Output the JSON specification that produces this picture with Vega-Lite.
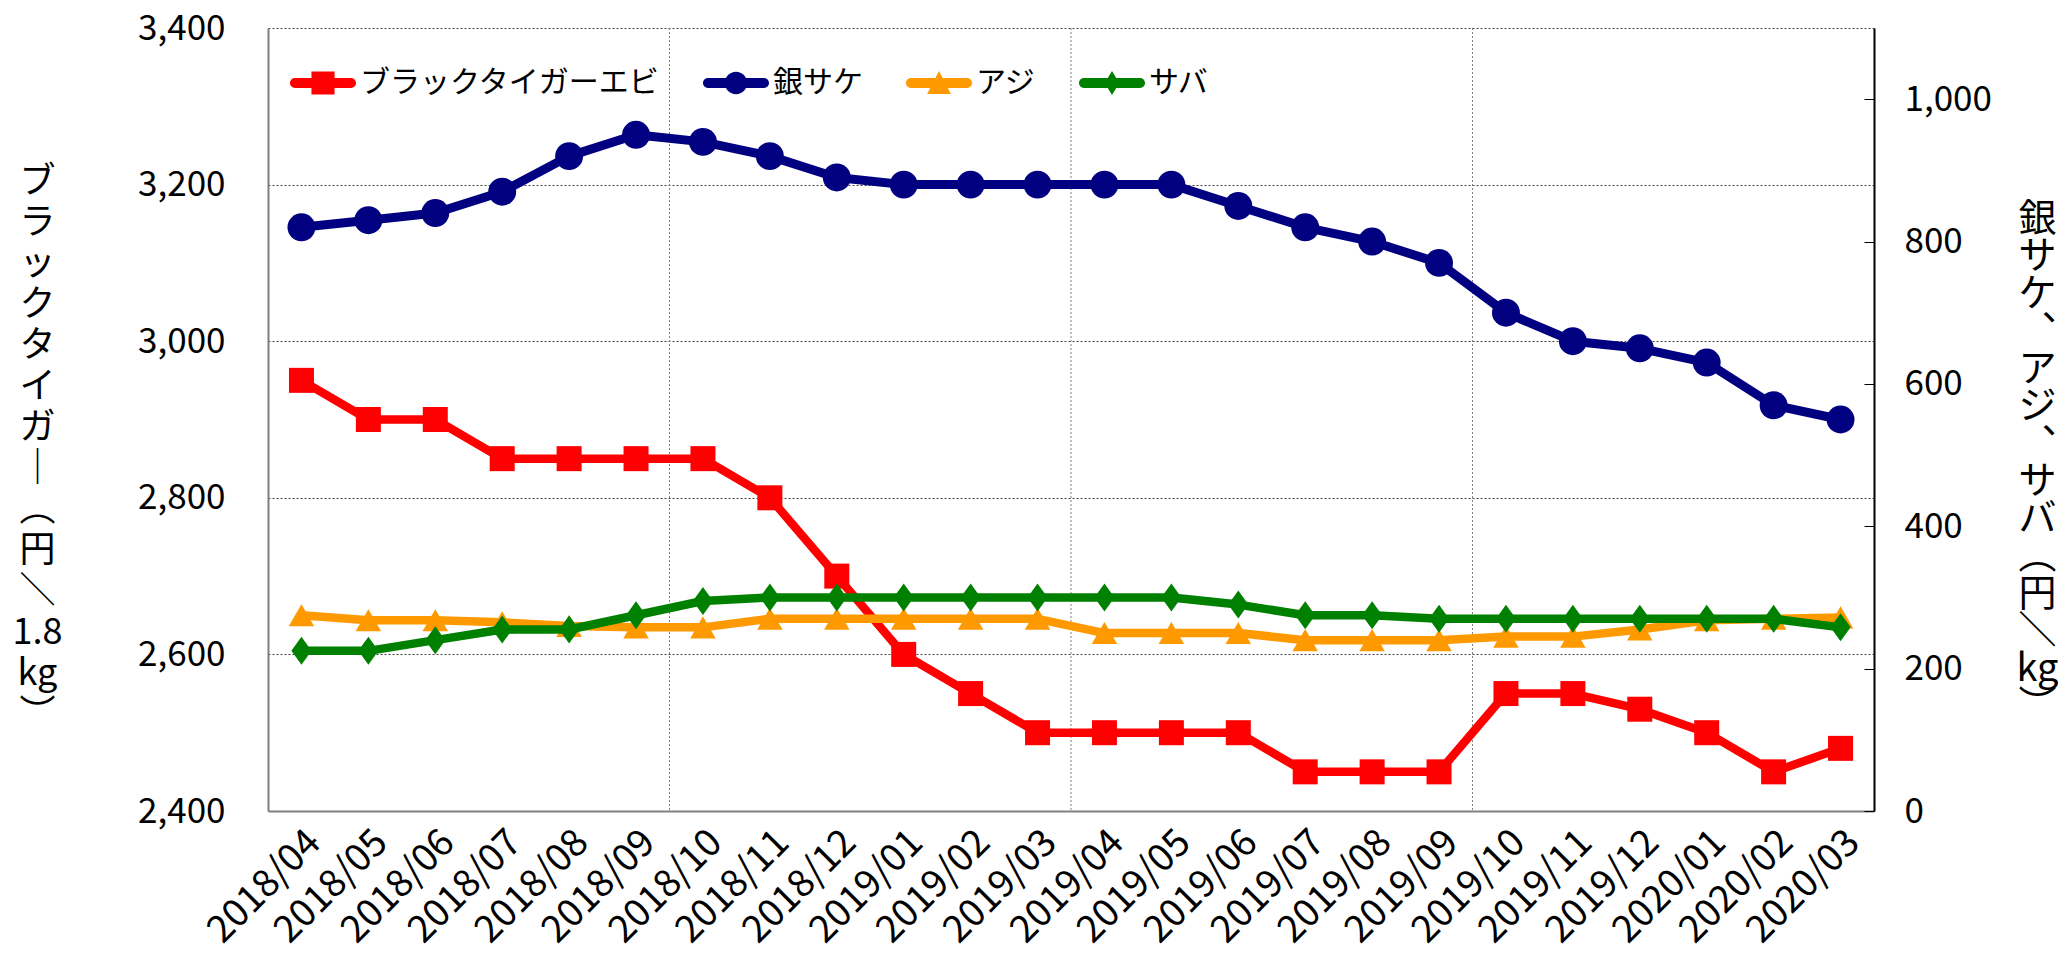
{
  "$schema": "https://vega.github.io/schema/vega-lite/v6.json",
  "width": 1606,
  "height": 783,
  "autosize": {"type": "none"},
  "padding": {"left": 268, "top": 28, "right": 188, "bottom": 144},
  "background": "#ffffff",
  "config": {
    "font": "Noto Sans CJK JP",
    "view": {"stroke": null},
    "axis": {"labelFont": "Noto Sans CJK JP", "titleFont": "Noto Sans CJK JP", "labelColor": "#000000", "titleColor": "#000000", "titleFontWeight": "normal"},
    "legend": {"labelFont": "Noto Sans CJK JP"}
  },
  "datasets": {
    "gridMonths": [{"month": "2018/10"}, {"month": "2019/04"}, {"month": "2019/10"}],
    "prices": [
      {"month": "2018/04", "series": "ブラックタイガーエビ", "price": 2950},
      {"month": "2018/05", "series": "ブラックタイガーエビ", "price": 2900},
      {"month": "2018/06", "series": "ブラックタイガーエビ", "price": 2900},
      {"month": "2018/07", "series": "ブラックタイガーエビ", "price": 2850},
      {"month": "2018/08", "series": "ブラックタイガーエビ", "price": 2850},
      {"month": "2018/09", "series": "ブラックタイガーエビ", "price": 2850},
      {"month": "2018/10", "series": "ブラックタイガーエビ", "price": 2850},
      {"month": "2018/11", "series": "ブラックタイガーエビ", "price": 2800},
      {"month": "2018/12", "series": "ブラックタイガーエビ", "price": 2700},
      {"month": "2019/01", "series": "ブラックタイガーエビ", "price": 2600},
      {"month": "2019/02", "series": "ブラックタイガーエビ", "price": 2550},
      {"month": "2019/03", "series": "ブラックタイガーエビ", "price": 2500},
      {"month": "2019/04", "series": "ブラックタイガーエビ", "price": 2500},
      {"month": "2019/05", "series": "ブラックタイガーエビ", "price": 2500},
      {"month": "2019/06", "series": "ブラックタイガーエビ", "price": 2500},
      {"month": "2019/07", "series": "ブラックタイガーエビ", "price": 2450},
      {"month": "2019/08", "series": "ブラックタイガーエビ", "price": 2450},
      {"month": "2019/09", "series": "ブラックタイガーエビ", "price": 2450},
      {"month": "2019/10", "series": "ブラックタイガーエビ", "price": 2550},
      {"month": "2019/11", "series": "ブラックタイガーエビ", "price": 2550},
      {"month": "2019/12", "series": "ブラックタイガーエビ", "price": 2530},
      {"month": "2020/01", "series": "ブラックタイガーエビ", "price": 2500},
      {"month": "2020/02", "series": "ブラックタイガーエビ", "price": 2450},
      {"month": "2020/03", "series": "ブラックタイガーエビ", "price": 2480},
      {"month": "2018/04", "series": "銀サケ", "price": 820},
      {"month": "2018/05", "series": "銀サケ", "price": 830},
      {"month": "2018/06", "series": "銀サケ", "price": 840},
      {"month": "2018/07", "series": "銀サケ", "price": 870},
      {"month": "2018/08", "series": "銀サケ", "price": 920},
      {"month": "2018/09", "series": "銀サケ", "price": 950},
      {"month": "2018/10", "series": "銀サケ", "price": 940},
      {"month": "2018/11", "series": "銀サケ", "price": 920},
      {"month": "2018/12", "series": "銀サケ", "price": 890},
      {"month": "2019/01", "series": "銀サケ", "price": 880},
      {"month": "2019/02", "series": "銀サケ", "price": 880},
      {"month": "2019/03", "series": "銀サケ", "price": 880},
      {"month": "2019/04", "series": "銀サケ", "price": 880},
      {"month": "2019/05", "series": "銀サケ", "price": 880},
      {"month": "2019/06", "series": "銀サケ", "price": 850},
      {"month": "2019/07", "series": "銀サケ", "price": 820},
      {"month": "2019/08", "series": "銀サケ", "price": 800},
      {"month": "2019/09", "series": "銀サケ", "price": 770},
      {"month": "2019/10", "series": "銀サケ", "price": 700},
      {"month": "2019/11", "series": "銀サケ", "price": 660},
      {"month": "2019/12", "series": "銀サケ", "price": 650},
      {"month": "2020/01", "series": "銀サケ", "price": 630},
      {"month": "2020/02", "series": "銀サケ", "price": 570},
      {"month": "2020/03", "series": "銀サケ", "price": 550},
      {"month": "2018/04", "series": "アジ", "price": 275},
      {"month": "2018/05", "series": "アジ", "price": 268},
      {"month": "2018/06", "series": "アジ", "price": 268},
      {"month": "2018/07", "series": "アジ", "price": 265},
      {"month": "2018/08", "series": "アジ", "price": 260},
      {"month": "2018/09", "series": "アジ", "price": 258},
      {"month": "2018/10", "series": "アジ", "price": 258},
      {"month": "2018/11", "series": "アジ", "price": 270},
      {"month": "2018/12", "series": "アジ", "price": 270},
      {"month": "2019/01", "series": "アジ", "price": 270},
      {"month": "2019/02", "series": "アジ", "price": 270},
      {"month": "2019/03", "series": "アジ", "price": 270},
      {"month": "2019/04", "series": "アジ", "price": 250},
      {"month": "2019/05", "series": "アジ", "price": 250},
      {"month": "2019/06", "series": "アジ", "price": 250},
      {"month": "2019/07", "series": "アジ", "price": 240},
      {"month": "2019/08", "series": "アジ", "price": 240},
      {"month": "2019/09", "series": "アジ", "price": 240},
      {"month": "2019/10", "series": "アジ", "price": 245},
      {"month": "2019/11", "series": "アジ", "price": 245},
      {"month": "2019/12", "series": "アジ", "price": 255},
      {"month": "2020/01", "series": "アジ", "price": 268},
      {"month": "2020/02", "series": "アジ", "price": 270},
      {"month": "2020/03", "series": "アジ", "price": 272},
      {"month": "2018/04", "series": "サバ", "price": 225},
      {"month": "2018/05", "series": "サバ", "price": 225},
      {"month": "2018/06", "series": "サバ", "price": 240},
      {"month": "2018/07", "series": "サバ", "price": 255},
      {"month": "2018/08", "series": "サバ", "price": 255},
      {"month": "2018/09", "series": "サバ", "price": 275},
      {"month": "2018/10", "series": "サバ", "price": 295},
      {"month": "2018/11", "series": "サバ", "price": 300},
      {"month": "2018/12", "series": "サバ", "price": 300},
      {"month": "2019/01", "series": "サバ", "price": 300},
      {"month": "2019/02", "series": "サバ", "price": 300},
      {"month": "2019/03", "series": "サバ", "price": 300},
      {"month": "2019/04", "series": "サバ", "price": 300},
      {"month": "2019/05", "series": "サバ", "price": 300},
      {"month": "2019/06", "series": "サバ", "price": 290},
      {"month": "2019/07", "series": "サバ", "price": 275},
      {"month": "2019/08", "series": "サバ", "price": 275},
      {"month": "2019/09", "series": "サバ", "price": 270},
      {"month": "2019/10", "series": "サバ", "price": 270},
      {"month": "2019/11", "series": "サバ", "price": 270},
      {"month": "2019/12", "series": "サバ", "price": 270},
      {"month": "2020/01", "series": "サバ", "price": 270},
      {"month": "2020/02", "series": "サバ", "price": 270},
      {"month": "2020/03", "series": "サバ", "price": 258}
    ]
  },
  "data": {"name": "prices"},
  "encoding": {
    "x": {
      "field": "month",
      "type": "ordinal",
      "bandPosition": 0.5,
      "scale": {"type": "band", "paddingInner": 0, "paddingOuter": 0},
      "axis": {
        "title": null,
        "labelAngle": -45,
        "labelFontSize": 38,
        "labelPadding": 12,
        "labelOverlap": false,
        "ticks": false,
        "grid": false,
        "domainColor": "#808080",
        "domainWidth": 2
      }
    }
  },
  "layer": [
    {
      "data": {"name": "gridMonths"},
      "mark": {"type": "rule", "color": "#808080", "strokeWidth": 1, "strokeDash": [2, 2]},
      "encoding": {"x": {"field": "month", "type": "ordinal", "bandPosition": 0}}
    },
    {
      "transform": [{"filter": {"field": "series", "equal": "ブラックタイガーエビ"}}],
      "encoding": {
        "y": {
          "field": "price",
          "type": "quantitative",
          "scale": {"domain": [2400, 3400], "nice": false, "zero": false},
          "axis": {
            "orient": "left",
            "values": [2400, 2600, 2800, 3000, 3200, 3400],
            "format": ",d",
            "labelFontSize": 35,
            "labelPadding": 43,
            "ticks": false,
            "grid": true,
            "gridColor": "#404040",
            "gridDash": [2, 2],
            "gridWidth": 1,
            "domainColor": "#808080",
            "domainWidth": 2,
            "title": ["ブ", "ラ", "ッ", "ク", "タ", "イ", "ガ", "｜", "︵", "円", "＼", "1.8", "kg", "︶"],
            "titleAngle": 0,
            "titleAlign": "center",
            "titleBaseline": "middle",
            "titleFontSize": 36,
            "titleLineHeight": 41,
            "titleX": -231,
            "titleY": 153
          }
        }
      },
      "layer": [
        {"mark": {"type": "line", "color": "#FF0000", "strokeWidth": 8.5, "strokeJoin": "round"}, "encoding": {}},
        {"mark": {"type": "point", "shape": "square", "filled": true, "size": 625, "color": "#FF0000", "opacity": 1}, "encoding": {}}
      ]
    },
    {
      "encoding": {
        "y": {
          "field": "price",
          "type": "quantitative",
          "scale": {"domain": [0, 1100], "nice": false, "zero": true},
          "axis": {
            "orient": "right",
            "values": [0, 200, 400, 600, 800, 1000],
            "format": ",d",
            "labelFontSize": 35,
            "labelPadding": 40,
            "ticks": true,
            "tickSize": -10,
            "tickColor": "#000000",
            "grid": false,
            "domainColor": "#000000",
            "domainWidth": 2,
            "title": ["銀", "サ", "ケ", "︑", "ア", "ジ", "︑", "サ", "バ", "︵", "円", "＼", "kg", "︶"],
            "titleAngle": 0,
            "titleAlign": "center",
            "titleBaseline": "middle",
            "titleFontSize": 38,
            "titleLineHeight": 37.5,
            "titleX": 163,
            "titleY": 191
          }
        }
      },
      "layer": [
        {
          "transform": [{"filter": {"field": "series", "equal": "銀サケ"}}],
          "layer": [
            {"mark": {"type": "line", "color": "#000080", "strokeWidth": 9, "strokeJoin": "round"}, "encoding": {}},
            {"mark": {"type": "point", "shape": "circle", "filled": true, "size": 780, "color": "#000080", "opacity": 1}, "encoding": {}}
          ]
        },
        {
          "transform": [{"filter": {"field": "series", "equal": "アジ"}}],
          "layer": [
            {"mark": {"type": "line", "color": "#FF9900", "strokeWidth": 8.5, "strokeJoin": "round"}, "encoding": {}},
            {"mark": {"type": "point", "shape": "triangle-up", "filled": true, "size": 650, "color": "#FF9900", "opacity": 1}, "encoding": {}}
          ]
        },
        {
          "transform": [{"filter": {"field": "series", "equal": "サバ"}}],
          "layer": [
            {"mark": {"type": "line", "color": "#008000", "strokeWidth": 8.5, "strokeJoin": "round"}, "encoding": {}},
            {"mark": {"type": "point", "shape": "M0,-1L0.72,0L0,1L-0.72,0Z", "filled": true, "size": 784, "color": "#008000", "opacity": 1}, "encoding": {}}
          ]
        },
        {
          "mark": {"type": "point", "filled": true, "opacity": 0},
          "encoding": {
            "color": {
              "field": "series",
              "type": "nominal",
              "scale": {"domain": ["ブラックタイガーエビ", "銀サケ", "アジ", "サバ"], "range": ["#FF0000", "#000080", "#FF9900", "#008000"]},
              "legend": {
                "title": null,
                "orient": "none",
                "legendX": 22,
                "legendY": 22,
                "direction": "horizontal",
                "columns": 4,
                "columnPadding": 43,
                "padding": 0,
                "symbolSize": 4356,
                "symbolStrokeWidth": 0,
                "symbolOpacity": 1,
                "labelFontSize": 30,
                "labelColor": "#000000",
                "labelLimit": 0,
                "labelOffset": 4
              }
            },
            "shape": {
              "field": "series",
              "type": "nominal",
              "scale": {
                "domain": ["ブラックタイガーエビ", "銀サケ", "アジ", "サバ"],
                "range": [
                  "M-0.85,-0.15H0.85A0.15,0.15 0 0 1 0.85,0.15H-0.85A0.15,0.15 0 0 1 -0.85,-0.15Z M-0.35,-0.35H0.35V0.35H-0.35Z",
                  "M-0.85,-0.15H0.85A0.15,0.15 0 0 1 0.85,0.15H-0.85A0.15,0.15 0 0 1 -0.85,-0.15Z M-0.34,0A0.34,0.34 0 1 1 0.34,0A0.34,0.34 0 1 1 -0.34,0Z",
                  "M-0.85,-0.15H0.85A0.15,0.15 0 0 1 0.85,0.15H-0.85A0.15,0.15 0 0 1 -0.85,-0.15Z M0,-0.36L0.36,0.33H-0.36Z",
                  "M-0.85,-0.15H0.85A0.15,0.15 0 0 1 0.85,0.15H-0.85A0.15,0.15 0 0 1 -0.85,-0.15Z M0,-0.36L0.22,0L0,0.36L-0.22,0Z"
                ]
              },
              "legend": {
                "title": null,
                "orient": "none",
                "legendX": 22,
                "legendY": 22,
                "direction": "horizontal",
                "columns": 4,
                "columnPadding": 43,
                "padding": 0,
                "symbolSize": 4356,
                "symbolStrokeWidth": 0,
                "symbolOpacity": 1,
                "labelFontSize": 30,
                "labelColor": "#000000",
                "labelLimit": 0,
                "labelOffset": 4
              }
            }
          }
        }
      ]
    }
  ],
  "resolve": {"scale": {"y": "independent"}}
}
